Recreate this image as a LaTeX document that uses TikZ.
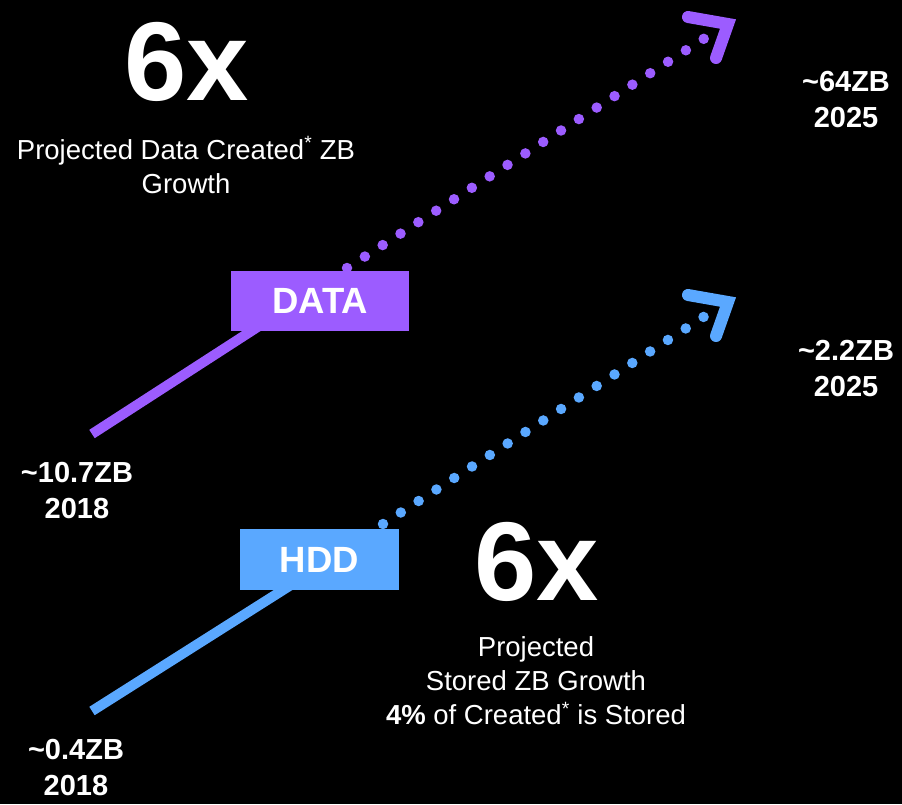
\documentclass[tikz,border=0pt]{standalone}
\usepackage{fontspec}
\setmainfont{Liberation Sans}
\usetikzlibrary{positioning}
\definecolor{DataPurple}{HTML}{9C5CFF}
\definecolor{HddBlue}{HTML}{5AA8FF}

\begin{document}
\begin{tikzpicture}[
    x=1pt, y=-1pt,
    bigfig/.style={text=white, font=\fontsize{112}{112}\selectfont\bfseries, inner sep=0pt},
    caption/.style={text=white, font=\fontsize{27.5}{34}\selectfont, align=center, inner sep=0pt},
    value/.style={text=white, font=\fontsize{29}{36}\selectfont\bfseries, align=center, inner sep=0pt},
    tag/.style={inner sep=0pt, text=white, font=\fontsize{36.5}{36.5}\selectfont\bfseries},
    trend/.style={line width=10pt},
    outlook/.style={line width=10.5pt, line cap=round, dash pattern=on 0pt off 21.2pt},
    tip/.style={line width=12pt, line cap=round, line join=miter},
]

% --- Background ---
\fill[black] (0,0) rectangle (902,804);

% --- Line end points ---
\coordinate (dataStart) at (92,434);
\coordinate (dataMid)   at (270,319);
\coordinate (dataTop)   at (347,268);
\coordinate (dataEnd)   at (705,38);
\coordinate (hddStart)  at (92,711);
\coordinate (hddMid)    at (302,578);
\coordinate (hddTop)    at (383,524);
\coordinate (hddEnd)    at (705,316);

% --- Measured growth (solid) ---
\draw[trend, DataPurple] (dataStart) -- (dataMid);
\draw[trend, HddBlue]    (hddStart) -- (hddMid);

% --- Projected growth (dotted, with chevron) ---
\draw[outlook, DataPurple] (dataTop) -- (dataEnd);
\draw[outlook, HddBlue]    (hddTop) -- (hddEnd);
\draw[tip, DataPurple] ([shift={(-17,-21)}]dataEnd) -- ([shift={(23,-14)}]dataEnd) -- ([shift={(11,20)}]dataEnd);
\draw[tip, HddBlue]    ([shift={(-17,-21)}]hddEnd) -- ([shift={(23,-14)}]hddEnd) -- ([shift={(11,20)}]hddEnd);

% --- Tags ---
\node[tag, fill=DataPurple, minimum width=178pt, minimum height=60pt] at (320,301) (data) {DATA};
\node[tag, fill=HddBlue, minimum width=159pt, minimum height=61pt]    at (319.5,559.5) (hdd) {HDD};

% --- Headline figures ---
\node[bigfig]  at (187,62)  (dataX)   {6x};
\node[caption] at (186,165) (dataCap) {Projected Data Created\textsuperscript{*} ZB\\Growth};
\node[bigfig]  at (537,562) (hddX)    {6x};
\node[caption] at (536,681) (hddCap)  {Projected\\Stored ZB Growth\\\textbf{4\%} of Created\textsuperscript{*} is Stored};

% --- Values ---
\node[value] at (77,491)  (data18) {\textasciitilde 10.7ZB\\2018};
\node[value] at (846,100) (data25) {\textasciitilde 64ZB\\2025};
\node[value] at (76,768)  (hdd18)  {\textasciitilde 0.4ZB\\2018};
\node[value] at (846,369) (hdd25)  {\textasciitilde 2.2ZB\\2025};

\end{tikzpicture}
\end{document}
